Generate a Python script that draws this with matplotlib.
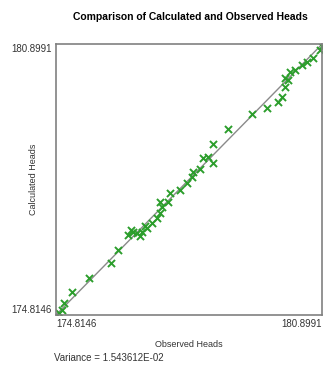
import matplotlib
matplotlib.use('Agg')
import matplotlib.pyplot as plt

# observed vs calculated heads
observed = [174.883, 174.952, 174.997, 175.180, 175.569, 176.073, 176.233,
            176.462, 176.530, 176.576, 176.667, 176.736, 176.782, 176.850,
            176.896, 177.010, 177.125, 177.193, 177.239, 177.193, 177.376,
            177.422, 177.651, 177.811, 177.925, 177.948, 178.108, 178.177,
            178.291, 178.406, 178.406, 178.749, 179.298, 179.641, 179.893,
            179.984, 180.053, 180.053, 180.121, 180.167, 180.281, 180.442,
            180.556, 180.693, 180.853, 180.899]
calculated = [174.860, 174.927, 175.084, 175.331, 175.645, 175.982, 176.274,
              176.611, 176.723, 176.678, 176.656, 176.588, 176.678, 176.813,
              176.768, 176.880, 176.992, 177.105, 177.239, 177.352, 177.352,
              177.554, 177.621, 177.778, 177.913, 178.025, 178.105, 178.340,
              178.362, 178.227, 178.654, 178.991, 179.328, 179.462, 179.597,
              179.709, 179.934, 180.136, 180.091, 180.270, 180.315, 180.428,
              180.495, 180.585, 180.764, 180.854]
head_min = 174.8146
head_max = 180.8991
variance_text = 'Variance = 1.543612E-02'

plt.rcParams['font.family'] = ['Liberation Sans', 'DejaVu Sans']

fig = plt.figure(figsize=(3.25, 3.67), dpi=100)
ax = fig.add_axes([0.172, 0.1417, 0.819, 0.738])

ax.plot([head_min, head_max], [head_min, head_max], color='#8a8a8a', lw=1, zorder=1)
ax.scatter(observed, calculated, marker='x', s=26, color='#2c9e2c', linewidths=1.4, zorder=2)

ax.set_xlim(head_min, head_max)
ax.set_ylim(head_min, head_max)
for sp in ax.spines.values():
    sp.set_color('#808080')
    sp.set_linewidth(1.2)

ax.set_xticks([head_min, head_max])
ax.set_xticklabels(['%.4f' % head_min, '%.4f' % head_max])
ax.set_yticks([head_min, head_max])
ax.set_yticklabels(['%.4f' % head_min, '%.4f' % head_max])
ax.tick_params(length=0, labelsize=7, labelcolor='#333333', pad=3)
xl = ax.get_xticklabels()
xl[0].set_ha('left')
xl[1].set_ha('right')
yl = ax.get_yticklabels()
yl[0].set_va('bottom')
yl[1].set_va('top')

fig.text(0.585, 0.955, 'Comparison of Calculated and Observed Heads',
         ha='center', va='center', fontsize=7.5, fontweight='bold')
ax.set_xlabel('Observed Heads', fontsize=6.5, color='#333333', labelpad=8)
ax.set_ylabel('Calculated Heads', fontsize=6.5, color='#333333')
ax.yaxis.set_label_coords(-0.068, 0.5)
fig.text(0.165, 0.025, variance_text, ha='left', va='center', fontsize=7, color='#333333')

fig.savefig('out.png', dpi=100)
